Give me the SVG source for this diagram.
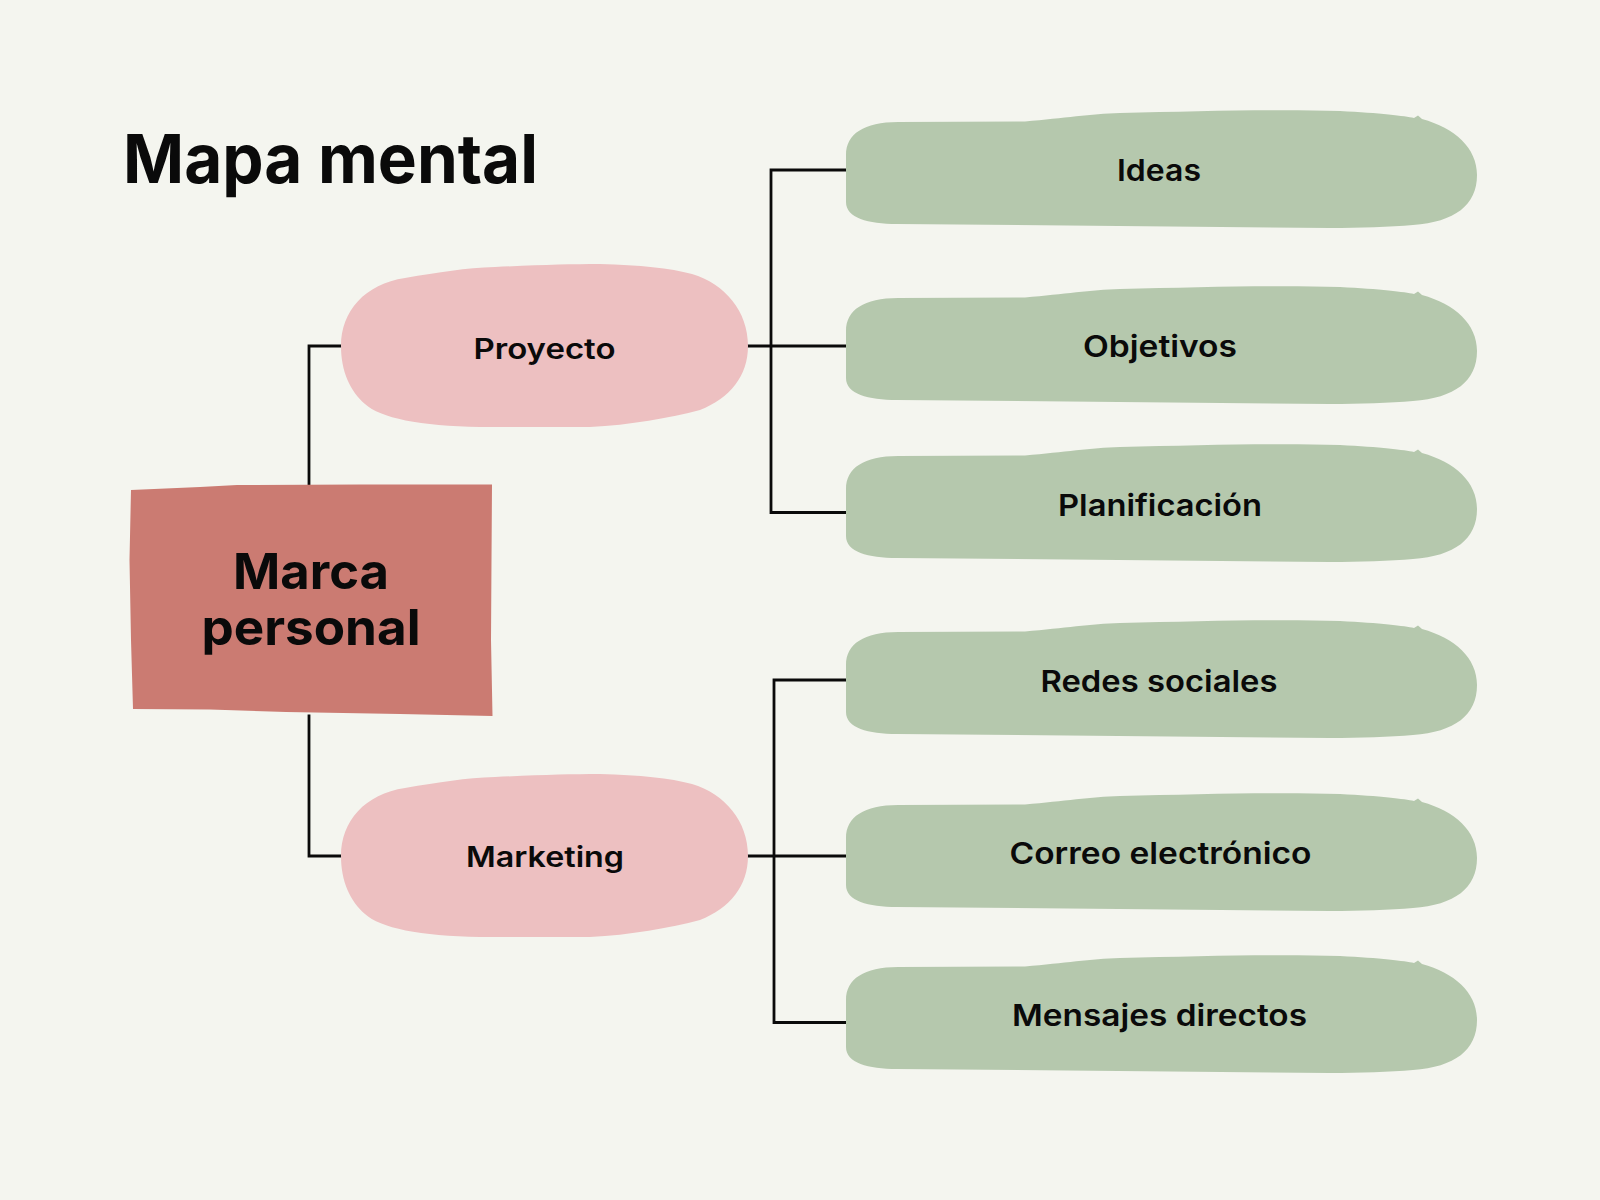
<svg xmlns="http://www.w3.org/2000/svg" xmlns:xlink="http://www.w3.org/1999/xlink" width="1600" height="1200" viewBox="0 0 1600 1200">
  <style>
    .bg { fill: #F4F5EF; }
    .green { fill: #B5C8AD; }
    .pink { fill: #EDC0C1; }
    .root { fill: #CB7B72; }
    .conn { fill: none; stroke: #0A0A0A; stroke-width: 2.8; stroke-linejoin: miter; stroke-linecap: square; }
    text { font-family: "Inter", "Liberation Sans", "DejaVu Sans", sans-serif; fill: #0A0A0A; }
    .title { font-size: 68px; font-weight: 700; }
    .rootlabel { font-size: 50px; font-weight: 700; text-anchor: middle; }
    .mid { font-size: 28px; font-weight: 600; text-anchor: middle; }
    .leaf { font-size: 30px; font-weight: 600; text-anchor: middle; }
  </style>
  <defs>
    <path id="leafShape" d="M 846,32 L 846,-15 C 846,-36 864,-48 898,-48 L 1025,-48.5 C 1065,-52 1090,-56 1120,-57 C 1200,-59 1280,-61 1340,-59 C 1380,-57 1405,-54 1414,-52 L 1418,-54.5 L 1422,-51 C 1455,-42 1477,-22 1477,5 C 1477,35 1455,52 1413,55 C 1390,57 1360,58 1330,58 L 897,54 C 868,54 846,48 846,32 Z"/>
    <path id="midShape" d="M 341,0 C 341,-35 365,-62 405,-68 C 440,-74 465,-78 495,-79 C 540,-81 570,-82 600,-82 C 640,-81 670,-78 692,-72 C 725,-62 748,-35 748,0 C 748,30 730,52 700,64 C 670,72 630,79 590,81 L 480,81 C 420,80 380,72 365,58 C 350,45 341,25 341,0 Z"/>
  </defs>

  <rect class="bg" x="0" y="0" width="1600" height="1200"/>

  <text id="title" class="title" x="123" y="183" textLength="415" lengthAdjust="spacingAndGlyphs">Mapa mental</text>

  <g id="connectors">
    <path class="conn" d="M 309,485 V 346 H 341"/>
    <path class="conn" d="M 309,716 V 856 H 341"/>
    <path class="conn" d="M 748,346 H 846"/>
    <path class="conn" d="M 846,170 H 771 V 512.5 H 846"/>
    <path class="conn" d="M 748,856 H 846"/>
    <path class="conn" d="M 846,680 H 774 V 1022.5 H 846"/>
  </g>

  <g id="node-marca">
    <path class="root" d="M 131,490 L 200,487 L 237,485 L 360,484.5 L 492,484.5 L 491.5,560 L 491,640 L 492.5,716 L 400,714 L 286,712 L 210,709.5 L 133,709 L 131,640 L 129.5,560 Z"/>
    <text class="rootlabel" x="311" y="588.5" textLength="156" lengthAdjust="spacingAndGlyphs">Marca</text>
    <text class="rootlabel" x="311" y="644.5" textLength="219" lengthAdjust="spacingAndGlyphs">personal</text>
  </g>

  <g id="node-proyecto">
    <use xlink:href="#midShape" href="#midShape" class="pink" transform="translate(0,346)"/>
    <text class="mid" x="544.5" y="358.5" textLength="142" lengthAdjust="spacingAndGlyphs">Proyecto</text>
  </g>

  <g id="node-marketing">
    <use xlink:href="#midShape" href="#midShape" class="pink" transform="translate(0,856)"/>
    <text class="mid" x="545" y="867" textLength="158" lengthAdjust="spacingAndGlyphs">Marketing</text>
  </g>

  <g id="node-ideas">
    <use xlink:href="#leafShape" href="#leafShape" class="green" transform="translate(0,170)"/>
    <text class="leaf" x="1159" y="181" textLength="84" lengthAdjust="spacingAndGlyphs">Ideas</text>
  </g>

  <g id="node-objetivos">
    <use xlink:href="#leafShape" href="#leafShape" class="green" transform="translate(0,346)"/>
    <text class="leaf" x="1160" y="357" textLength="154" lengthAdjust="spacingAndGlyphs">Objetivos</text>
  </g>

  <g id="node-planificacion">
    <use xlink:href="#leafShape" href="#leafShape" class="green" transform="translate(0,504)"/>
    <text class="leaf" x="1160" y="516" textLength="204" lengthAdjust="spacingAndGlyphs">Planificación</text>
  </g>

  <g id="node-redes">
    <use xlink:href="#leafShape" href="#leafShape" class="green" transform="translate(0,680)"/>
    <text class="leaf" x="1159" y="692" textLength="237" lengthAdjust="spacingAndGlyphs">Redes sociales</text>
  </g>

  <g id="node-correo">
    <use xlink:href="#leafShape" href="#leafShape" class="green" transform="translate(0,853)"/>
    <text class="leaf" x="1160.5" y="863.5" textLength="302" lengthAdjust="spacingAndGlyphs">Correo electrónico</text>
  </g>

  <g id="node-mensajes">
    <use xlink:href="#leafShape" href="#leafShape" class="green" transform="translate(0,1015)"/>
    <text class="leaf" x="1159.5" y="1026" textLength="295" lengthAdjust="spacingAndGlyphs">Mensajes directos</text>
  </g>
</svg>
